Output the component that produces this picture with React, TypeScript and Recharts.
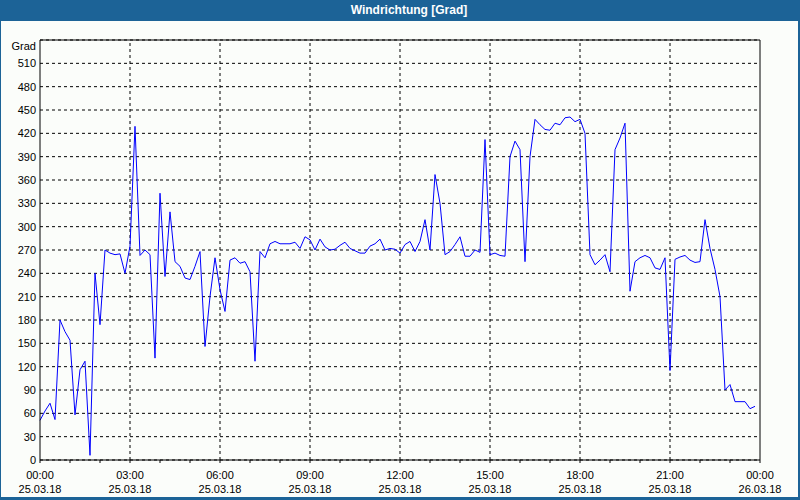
import { CartesianGrid, Line, LineChart, ReferenceLine, XAxis, YAxis } from 'recharts'

// wind direction, 10-minute readings, one array per 6 hours
const dir00to06 = [
  51, 63, 73, 52, 180, 165, 154, 58, 116, 127, 6, 240, 174, 270, 266, 264, 265, 240,
  275, 429, 263, 270, 264, 131, 343, 236, 319, 255, 249, 234, 232, 249, 268, 146, 210, 260,
]
const dir06to12 = [
  219, 191, 257, 260, 253, 255, 242, 127, 268, 260, 278, 281, 278, 278, 278, 280, 272, 287,
  283, 270, 284, 274, 270, 271, 276, 280, 272, 269, 266, 266, 275, 278, 284, 270, 272, 271,
]
const dir12to18 = [
  266, 277, 281, 268, 281, 309, 270, 367, 330, 264, 268, 277, 287, 262, 262, 270, 267, 412,
  264, 266, 263, 262, 390, 410, 399, 255, 390, 438, 431, 425, 424, 433, 431, 440, 441, 435,
]
const dir18to24 = [
  438, 420, 264, 251, 257, 264, 242, 399, 414, 433, 217, 255, 260, 263, 260, 247, 245, 260,
  115, 258, 261, 263, 257, 254, 255, 309, 272, 245, 210, 90, 97, 75, 75, 75, 66, 69,
]

const hourTicks = [
  0, 60, 120, 180, 240, 300, 360, 420, 480, 540, 600, 660, 720, 780, 840, 900, 960, 1020,
  1080, 1140, 1200, 1260, 1320, 1380, 1440,
]
const majorTicks = [0, 180, 360, 540, 720, 900, 1080, 1260, 1440]
const timeLabels = ['00:00', '03:00', '06:00', '09:00', '12:00', '15:00', '18:00', '21:00', '00:00']
const dateLabels = [
  '25.03.18', '25.03.18', '25.03.18', '25.03.18', '25.03.18',
  '25.03.18', '25.03.18', '25.03.18', '26.03.18',
]
const gridTimes = [180, 360, 540, 720, 900, 1080, 1260]

const gradTicks = [
  0, 30, 60, 90, 120, 150, 180, 210, 240, 270, 300, 330, 360, 390, 420, 450, 480, 510, 540,
]
const compassTicks = [0, 45, 90, 135, 180, 225, 270, 315, 360, 405, 450, 495, 540]
const compassLabels = ['N', 'NE', 'E', 'SE', 'S', 'SW', 'W', 'NW', 'N', 'NE', 'E', 'SE', 'S']

const rows = [...dir00to06, ...dir06to12, ...dir12to18, ...dir18to24].map((v, i) => ({
  t: i * 10,
  dir: v,
}))

const FONT = "'Liberation Sans', Arial, sans-serif"

function TimeTick({ x, y, payload }: any) {
  const i = majorTicks.indexOf(payload.value)
  if (i < 0) return null
  return (
    <text x={x} y={y} textAnchor="middle" fontSize={11} fontFamily={FONT} fill="#000">
      <tspan x={x} dy={14}>{timeLabels[i]}</tspan>
      <tspan x={x} dy={14}>{dateLabels[i]}</tspan>
    </text>
  )
}

function GradTick({ x, y, payload }: any) {
  const top = payload.value === 540
  return (
    <text x={x} y={y} dy={top ? 10 : 4} textAnchor="end" fontSize={11} fontFamily={FONT} fill="#000">
      {top ? 'Grad' : payload.value}
    </text>
  )
}

function CompassTick({ x, y, payload }: any) {
  const i = compassTicks.indexOf(payload.value)
  return (
    <text x={x} y={y} dy={payload.value === 540 ? 7 : 5} textAnchor="start" fontSize={11} fontFamily={FONT} fill="#000">
      {compassLabels[i]}
    </text>
  )
}

export default function App() {
  return (
    <div
      style={{
        position: 'absolute',
        left: 0,
        top: 0,
        width: 800,
        height: 500,
        background: '#1c6397',
        fontFamily: FONT,
      }}
    >
      <div
        style={{
          position: 'absolute',
          left: 0,
          top: 0,
          width: 800,
          height: 21,
          lineHeight: '21px',
          textAlign: 'center',
          paddingLeft: 18,
          boxSizing: 'border-box',
          color: '#fff',
          fontWeight: 'bold',
          fontSize: 12,
        }}
      >
        Windrichtung [Grad]
      </div>
      <div
        style={{
          position: 'absolute',
          left: 1,
          top: 21,
          width: 797,
          height: 476,
          background: '#fbfdfa',
        }}
      />
      <div style={{ position: 'absolute', left: 0, top: 0 }}>
        <LineChart width={800} height={500} data={rows} margin={{ top: 40, right: 0, bottom: 0, left: 0 }}>
          <CartesianGrid
            yAxisId="left"
            vertical={false}
            stroke="#000"
            strokeDasharray="3 3"
          />
          <XAxis
            dataKey="t"
            type="number"
            domain={[0, 1440]}
            ticks={hourTicks}
            interval={0}
            height={40}
            stroke="#000"
            tickSize={3}
            tickMargin={2}
            tick={<TimeTick />}
          />
          <YAxis
            yAxisId="left"
            type="number"
            domain={[0, 540]}
            ticks={gradTicks}
            interval={0}
            width={40}
            stroke="#000"
            tickLine={false}
            tickSize={4}
            tickMargin={0}
            tick={<GradTick />}
          />
          <YAxis
            yAxisId="right"
            orientation="right"
            type="number"
            domain={[0, 540]}
            ticks={compassTicks}
            interval={0}
            width={40}
            stroke="#000"
            tickSize={3}
            tickMargin={1}
            tick={<CompassTick />}
          />
          {gridTimes.map((t) => (
            <ReferenceLine key={t} x={t} yAxisId="left" stroke="#000" strokeDasharray="3 3" />
          ))}
          <ReferenceLine y={540} yAxisId="left" stroke="#000" />
          <Line
            yAxisId="left"
            dataKey="dir"
            type="linear"
            stroke="#0000ff"
            strokeWidth={1}
            dot={false}
            isAnimationActive={false}
          />
        </LineChart>
      </div>
    </div>
  )
}
